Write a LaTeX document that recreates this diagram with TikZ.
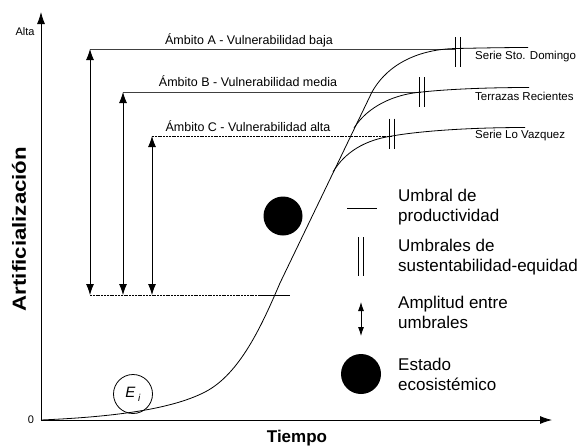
\documentclass[tikz,border=0pt]{standalone}
\usepackage{fontspec}
\setmainfont{Liberation Sans}
\usetikzlibrary{arrows.meta}
\begin{document}
\begin{tikzpicture}[x=1pt,y=-1pt,
  lbl/.style={font=\fontsize{12.5}{14}\selectfont, inner sep=0},
  ser/.style={font=\fontsize{11.5}{13}\selectfont, anchor=west, inner sep=0},
  leg/.style={font=\fontsize{17}{20}\selectfont, anchor=west, align=left, inner sep=0},
  ln/.style={line width=0.8pt},
  amp/.style={ln, {Latex[length=11pt,width=8pt]}-{Latex[length=11pt,width=8pt]}},
  ax/.style={ln, -{Latex[length=12pt,width=8pt]}},
  dbar/.pic={\draw[ln] (-2.6,-15) -- (-2.6,15) (2.6,-15) -- (2.6,15);},
  ]
\useasboundingbox (0,0) rectangle (579,445);
% axes
\coordinate (O) at (41,420);
\coordinate (ytop) at (41,12);
\coordinate (xend) at (552,420);
\draw[ax] (O) -- (ytop);
\draw[ax] (O) -- (xend);
\node[font=\fontsize{11}{12}\selectfont, inner sep=0] (alta) at (25,32) {Alta};
\node[font=\fontsize{11}{12}\selectfont, inner sep=0] (zero) at (31,420) {0};
\node[rotate=90, inner sep=0, font=\fontsize{19}{20}\selectfont\bfseries] (ylab) at (19,229) {\scalebox{1.17}[1]{Artificialización}};
\node[inner sep=0, font=\fontsize{17}{18}\selectfont\bfseries] (xlab) at (297,438) {Tiempo};
% thresholds
\coordinate (aL) at (90,49);  \coordinate (aR) at (455,49);
\coordinate (bL) at (123,92); \coordinate (bR) at (421,92);
\coordinate (cL) at (152,136); \coordinate (cR) at (392,136);
\coordinate (baseL) at (90,295); \coordinate (baseM) at (260,295); \coordinate (baseR) at (290,295);
\draw[ln, black!75] (aL) -- (aR);
\draw[ln, black!75] (bL) -- (bR);
\draw[line width=0.7pt, dash pattern=on 2pt off 0.8pt] (cL) -- (cR);
\draw[line width=0.7pt, dash pattern=on 2pt off 0.8pt] (baseL) -- (baseM);
\draw[ln] (baseM) -- (baseR);
\draw[amp] (baseL) -- (aL);
\draw[amp] (bL |- baseL) -- (bL);
\draw[amp] (cL |- baseL) -- (cL);
% curves
\draw[ln] (41,420) .. controls (110,417) and (170,410) .. (205,392)
  .. controls (240,374) and (262,325) .. (280,283)
  -- (372,92)
  .. controls (390,60) and (425,49) .. (456,48.5)
  .. controls (480,48) and (505,47.5) .. (528,47.5);
\draw[ln] (354,128) .. controls (368,106) and (395,94) .. (422,92)
  .. controls (450,89) and (490,87.5) .. (529,87.5);
\draw[ln] (333,172) .. controls (345,152) and (365,140) .. (392,136)
  .. controls (420,131) and (470,127.5) .. (525,127.5);
\pic at (457.5,52) {dbar};
\pic at (421.5,92) {dbar};
\pic at (392,133.5) {dbar};
% labels
\node[lbl] (ambA) at (249,40) {Ámbito A - Vulnerabilidad baja};
\node[lbl] (ambB) at (248,81) {Ámbito B - Vulnerabilidad media};
\node[lbl] (ambC) at (248,126) {Ámbito C - Vulnerabilidad alta};
\node[ser] (serA) at (475,57) {Serie Sto. Domingo};
\node[ser] (serB) at (475,96) {Terrazas Recientes};
\node[ser] (serC) at (475,136) {Serie Lo Vazquez};
% state and E_i
\node[circle, fill=black, minimum size=39pt, inner sep=0] (state) at (283,216) {};
\node[circle, draw, ln, minimum size=39pt, inner sep=0, font=\fontsize{15}{16}\selectfont] (Ei) at (133,394) {\textit{E}\,\raisebox{-4pt}{\fontsize{10}{10}\selectfont\textit{i}}};
% legend
\coordinate (lg1a) at (347,208); \coordinate (lg1b) at (377,208);
\draw[ln] (lg1a) -- (lg1b);
\node[leg] (lt1) at (398,207) {Umbral de\\productividad};
\draw[ln] (358,237) -- (358,276) (363,237) -- (363,276);
\node[leg] (lt2) at (398,257) {Umbrales de\\sustentabilidad-equidad};
\coordinate (lg3a) at (361,302); \coordinate (lg3b) at (361,336);
\draw[ln, {Latex[length=9pt,width=6pt]}-{Latex[length=9pt,width=6pt]}] (lg3a) -- (lg3b);
\node[leg] (lt3) at (398,312) {Amplitud entre\\umbrales};
\node[circle, fill=black, minimum size=40pt, inner sep=0] (lgstate) at (361,374) {};
\node[leg] (lt4) at (398,374) {Estado\\ecosistémico};
\end{tikzpicture}
\end{document}
